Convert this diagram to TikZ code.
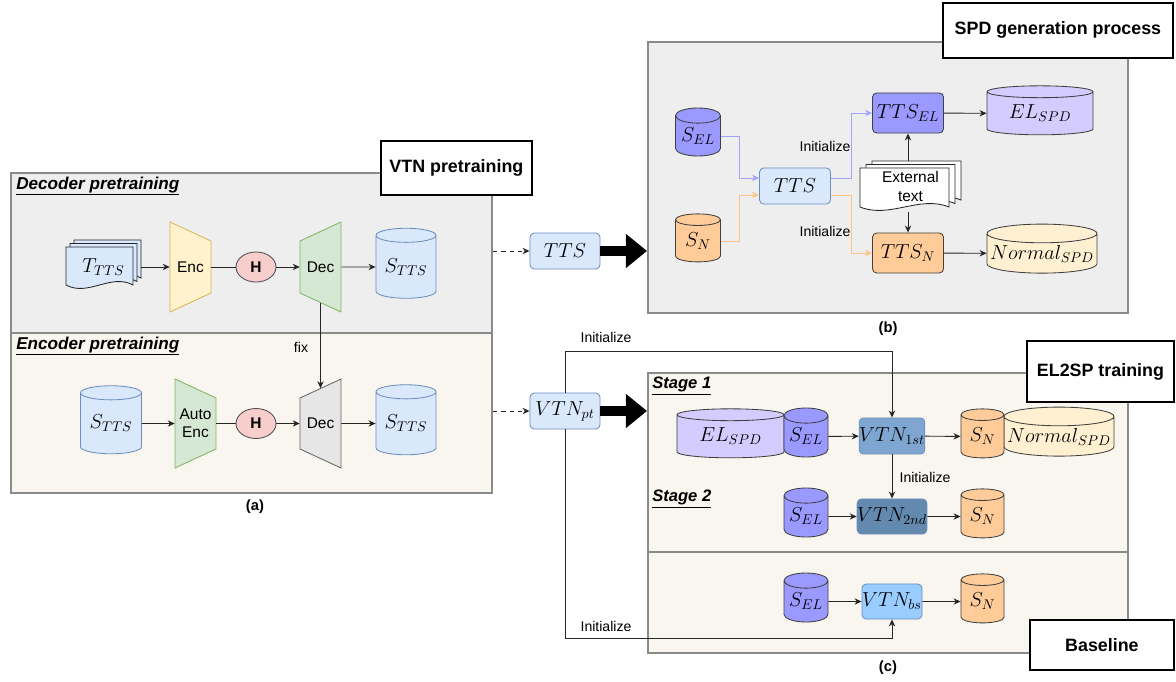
\documentclass[tikz,border=0pt]{standalone}
\usepackage[no-math]{fontspec}
\setmainfont{Liberation Sans}
\usetikzlibrary{shapes.geometric,arrows.meta}

\definecolor{panelgray}{HTML}{8A8A8A}
\definecolor{boxgray}{HTML}{EEEEEE}
\definecolor{boxbeige}{HTML}{F8F6EE}
\definecolor{lblue}{HTML}{DAE8FC}
\definecolor{lblueline}{HTML}{6C8EBF}
\definecolor{encfill}{HTML}{FFF2CC}
\definecolor{encline}{HTML}{D6B656}
\definecolor{decfill}{HTML}{D5E8D4}
\definecolor{decline}{HTML}{82B366}
\definecolor{hfill}{HTML}{F8CECC}
\definecolor{grayfill}{HTML}{E6E6E6}
\definecolor{grayline}{HTML}{666666}
\definecolor{elfill}{HTML}{9999FF}
\definecolor{elspdfill}{HTML}{D4CCFF}
\definecolor{nfill}{HTML}{FFCC99}
\definecolor{nspdfill}{HTML}{FFF0D2}
\definecolor{vtnone}{HTML}{7EA6D0}
\definecolor{vtntwo}{HTML}{6389AF}
\definecolor{vtnbase}{HTML}{99CCFF}
\definecolor{elline}{HTML}{A3A3FF}
\definecolor{nline}{HTML}{FFC388}

% one sheet of a stacked document, x1 y1 x2 y2 in px
\newcommand{\sheet}[5][white]{%
  \draw[draw=black!85, line width=0.6pt, fill=#1] (#2,#3) -- (#4,#3) -- (#4,{(#5)-5})
    .. controls ({(#4)-((#4)-(#2))/3},{(#5)-17}) and ({(#2)+((#4)-(#2))/3},{(#5)+7}) .. (#2,{(#5)-5}) -- cycle;}

\tikzset{
  panel/.style={draw=panelgray, line width=1.3pt, anchor=north west, inner sep=0pt},
  title/.style={draw=black, line width=1.3pt, fill=white, anchor=north west, inner sep=0pt, font=\fontsize{12.7}{15}\selectfont\bfseries},
  sec/.style={anchor=west, inner sep=0pt, font=\fontsize{12.2}{15}\selectfont\bfseries\itshape},
  stagelbl/.style={sec, font=\fontsize{11.8}{14}\selectfont\bfseries\itshape},
  lbl/.style={inner sep=0pt, font=\fontsize{10}{12}\selectfont},
  txt/.style={inner sep=0pt, align=center, font=\fontsize{11}{13}\selectfont},
  capt/.style={inner sep=0pt, font=\fontsize{10.5}{12}\selectfont\bfseries},
  mth/.style={inner sep=0pt, font=\fontsize{14.4}{17}\selectfont},
  rbox/.style={mth, draw, rounded corners=3pt, line width=0.6pt},
  db/.style={mth, cylinder, shape border rotate=90, draw=black!75, line width=0.6pt},
  hnode/.style={ellipse, draw=black!70, fill=hfill, line width=0.6pt, minimum width=1cm, minimum height=0.75cm, inner sep=0pt, font=\fontsize{11}{13}\selectfont\bfseries},
  conn/.style={draw=black!85, line width=0.65pt, -{Stealth[length=5pt,width=4.5pt]}},
  plain/.style={draw=black!85, line width=0.65pt},
  dashconn/.style={conn, dashed},
  elconn/.style={conn, draw=elline, -{Stealth[length=5pt,width=4.5pt,fill=elline]}},
  nconn/.style={conn, draw=nline, -{Stealth[length=5pt,width=4.5pt,fill=nline]}},
  bigarrow/.style={line width=7.8pt, -{Triangle[length=15pt,width=23.4pt]}},
}

\begin{document}
\begin{tikzpicture}[x=0.025cm, y=-0.025cm]
\useasboundingbox (0,0) rectangle (1176,682);

% (a) VTN pretraining
\node[panel, fill=boxgray, minimum width=12.025cm, minimum height=4cm] (decbox) at (10,172) {};
\node[panel, fill=boxbeige, minimum width=12.025cm, minimum height=4cm] (encbox) at (10,332) {};
\node[title, minimum width=3.775cm, minimum height=1.35cm] (vtntitle) at (380,140) {VTN pretraining};
\node[sec] (declbl) at (16,186) {\underline{Decoder pretraining}};
\node[sec] (enclbl) at (16,346) {\underline{Encoder pretraining}};

\foreach \k in {2,1,0} \sheet[lblue]{66+4*\k}{247-3.5*\k}{133+4*\k}{290-3.5*\k};
\node[mth, minimum width=1.875cm, minimum height=1.25cm] (tdoc) at (103.5,267) {$T_{TTS}$};
\draw[draw=encline, fill=encfill, line width=0.6pt] (170,222) -- (211,241) -- (211,293) -- (170,312) -- cycle;
\node[txt, minimum width=1.025cm, minimum height=1.775cm] (encA) at (190.5,267) {Enc};
\node[hnode] (hA) at (256,267) {H};
\draw[draw=decline, fill=decfill, line width=0.6pt] (300,241) -- (341,222) -- (341,312) -- (300,293) -- cycle;
\node[txt, minimum width=1.025cm, minimum height=1.775cm] (decA) at (320.5,267) {Dec};
\node[db, draw=lblueline, fill=lblue, aspect=0.33, minimum width=1.5cm, minimum height=1.75cm] (sA) at (406,267) {$S_{TTS}$};

\node[db, draw=lblueline, fill=lblue, aspect=0.33, minimum width=1.525cm, minimum height=1.7cm] (sB1) at (111,423.5) {$S_{TTS}$};
\draw[draw=decline, fill=decfill, line width=0.6pt] (175,379) -- (216,398) -- (216,449) -- (175,468) -- cycle;
\node[txt, minimum width=1.025cm, minimum height=1.75cm] (aencB) at (195.5,423.5) {Auto\\Enc};
\node[hnode] (hB) at (256,423.5) {H};
\draw[draw=grayline, fill=grayfill, line width=0.6pt] (300,398) -- (341,379) -- (341,468) -- (300,449) -- cycle;
\node[txt, minimum width=1.025cm, minimum height=1.75cm] (decB) at (320.5,423.5) {Dec};
\node[db, draw=lblueline, fill=lblue, aspect=0.33, minimum width=1.5cm, minimum height=1.75cm] (sB2) at (406,423.5) {$S_{TTS}$};

\draw[conn] (tdoc) -- (encA);
\draw[plain] (encA) -- (hA);
\draw[conn] (hA) -- (decA);
\draw[conn] (decA) -- (sA);
\draw[conn] (sB1) -- (aencB);
\draw[plain] (aencB) -- (hB);
\draw[conn] (hB) -- (decB);
\draw[conn] (decB) -- (sB2);
\draw[conn] (decA.south) -- (decB.north);
\node[lbl] (fixlbl) at (301,347) {fix};
\node[capt] (capa) at (255,507) {(a)};

% pretrained models
\node[rbox, draw=lblueline, fill=lblue, minimum width=1.75cm, minimum height=0.9cm] (ttsM) at (565,251) {$TTS$};
\node[rbox, draw=lblueline, fill=lblue, minimum width=1.75cm, minimum height=0.9cm] (vtnpt) at (565,411) {$VTN_{pt}$};
\draw[dashconn] (decbox.east |- ttsM) -- (ttsM);
\draw[dashconn] (encbox.east |- vtnpt) -- (vtnpt);

% (b) SPD generation process
\node[panel, fill=boxgray, minimum width=12cm, minimum height=6.775cm] (pbox) at (647,41) {};
\node[title, minimum width=5.75cm, minimum height=1.375cm] (spdtitle) at (942,2) {SPD generation process};
\draw[bigarrow] (ttsM) -- (pbox.west |- ttsM);

\node[db, fill=elfill, aspect=0.45, minimum width=1.125cm, minimum height=1.2cm] (sel) at (698,136) {$S_{EL}$};
\node[db, fill=nfill, aspect=0.45, minimum width=1.125cm, minimum height=1.2cm] (sn) at (698,241) {$S_N$};
\node[rbox, draw=lblueline, fill=lblue, minimum width=1.775cm, minimum height=0.9cm] (tts) at (795,186) {$TTS$};
\node[rbox, draw=black!75, fill=elfill, minimum width=1.775cm, minimum height=1cm] (ttsel) at (908,113) {$TTS_{EL}$};
\node[rbox, draw=black!75, fill=nfill, minimum width=1.775cm, minimum height=1cm] (ttsn) at (908,253) {$TTS_N$};
\node[db, fill=elspdfill, aspect=0.19, minimum width=2.65cm, minimum height=1.225cm] (elspd) at (1040,113.5) {$EL_{SPD}$};
\node[db, fill=nspdfill, aspect=0.18, minimum width=2.75cm, minimum height=1.225cm] (normspd) at (1042,253.5) {$Normal_{SPD}$};
\foreach \k in {2,1,0} \sheet{860+6*\k}{168-3.5*\k}{949+6*\k}{212-3.5*\k};
\node[txt, minimum width=2.525cm, minimum height=1.275cm] (ext) at (910.5,186.5) {External\\text};

\draw[elconn] (sel.east) -- ++(19,0) |- ([yshift=5.7pt]tts.west);
\draw[nconn] (sn.east) -- ++(19,0) |- ([yshift=-6.4pt]tts.west);
\draw[elconn] ([yshift=5.7pt]tts.east) -- ++(21,0) |- (ttsel.west);
\draw[nconn] ([yshift=-6.4pt]tts.east) -- ++(21,0) |- (ttsn.west);
\draw[conn] (ttsel) -- (elspd);
\draw[conn] (ttsn) -- (normspd);
\draw[conn] (ext.north -| ttsel) -- (ttsel.south);
\draw[conn] (ext.south -| ttsn) -- (ttsn.north);
\node[lbl] (initel) at (825,146) {Initialize};
\node[lbl] (initn) at (825,231) {Initialize};
\node[capt] (capb) at (888,329) {(b)};

% (c) EL2SP training
\node[panel, fill=boxbeige, minimum width=12cm, minimum height=4.475cm] (stagebox) at (647,372) {};
\node[panel, fill=boxbeige, minimum width=12cm, minimum height=2.525cm] (basebox) at (647,551) {};
\node[title, minimum width=3.675cm, minimum height=1.525cm] (el2title) at (1026,340) {EL2SP training};
\node[title, minimum width=3.6cm, minimum height=1.25cm] (basetitle) at (1029,619) {Baseline};
\node[stagelbl] (stageone) at (652,386) {\underline{Stage 1}};
\node[stagelbl] (stagetwo) at (652,499) {\underline{Stage 2}};
\draw[bigarrow] (vtnpt) -- (stagebox.west |- vtnpt);

\node[db, fill=elspdfill, aspect=0.19, minimum width=2.675cm, minimum height=1.225cm] (elspdc) at (730.5,436.5) {$EL_{SPD}$};
\node[db, fill=elfill, aspect=0.45, minimum width=1.1cm, minimum height=1.225cm] (selone) at (806,436.5) {$S_{EL}$};
\node[rbox, draw=lblueline, fill=vtnone, minimum width=1.5cm, minimum height=0.9cm] (vtnone) at (892,436) {$VTN_{1st}$};
\node[db, fill=nspdfill, aspect=0.18, minimum width=2.75cm, minimum height=1.225cm] (normc) at (1059,436.5) {$Normal_{SPD}$};
\node[db, fill=nfill, aspect=0.45, minimum width=1.075cm, minimum height=1.225cm] (snone) at (982.5,436.5) {$S_N$};

\node[db, fill=elfill, aspect=0.45, minimum width=1.1cm, minimum height=1.225cm] (seltwo) at (806,516.5) {$S_{EL}$};
\node[rbox, draw=lblueline, fill=vtntwo, minimum width=1.5cm, minimum height=0.875cm] (vtntwo) at (892,516.5) {$VTN_{2nd}$};
\node[db, fill=nfill, aspect=0.45, minimum width=1.075cm, minimum height=1.225cm] (sntwo) at (982.5,516.5) {$S_N$};

\node[db, fill=elfill, aspect=0.45, minimum width=1.1cm, minimum height=1.225cm] (selbs) at (806,601.5) {$S_{EL}$};
\node[rbox, draw=lblueline, fill=vtnbase, minimum width=1.5cm, minimum height=0.875cm] (vtnbs) at (892,601.5) {$VTN_{bs}$};
\node[db, fill=nfill, aspect=0.45, minimum width=1.075cm, minimum height=1.225cm] (snbs) at (982.5,601.5) {$S_N$};

\draw[conn] (selone) -- (vtnone);
\draw[conn] (vtnone) -- (snone);
\draw[conn] (vtnone) -- (vtntwo);
\draw[conn] (seltwo) -- (vtntwo);
\draw[conn] (vtntwo) -- (sntwo);
\draw[conn] (selbs) -- (vtnbs);
\draw[conn] (vtnbs) -- (snbs);
\draw[conn] (vtnpt.north) -- ++(0,-41) -| (vtnone.north);
\draw[conn] (vtnpt.south) -- ++(0,209) -| (vtnbs.south);
\node[lbl] (inittop) at (606,337) {Initialize};
\node[lbl] (initmid) at (925,477) {Initialize};
\node[lbl] (initbot) at (606,626) {Initialize};
\node[capt] (capc) at (888,668) {(c)};
\end{tikzpicture}
\end{document}
